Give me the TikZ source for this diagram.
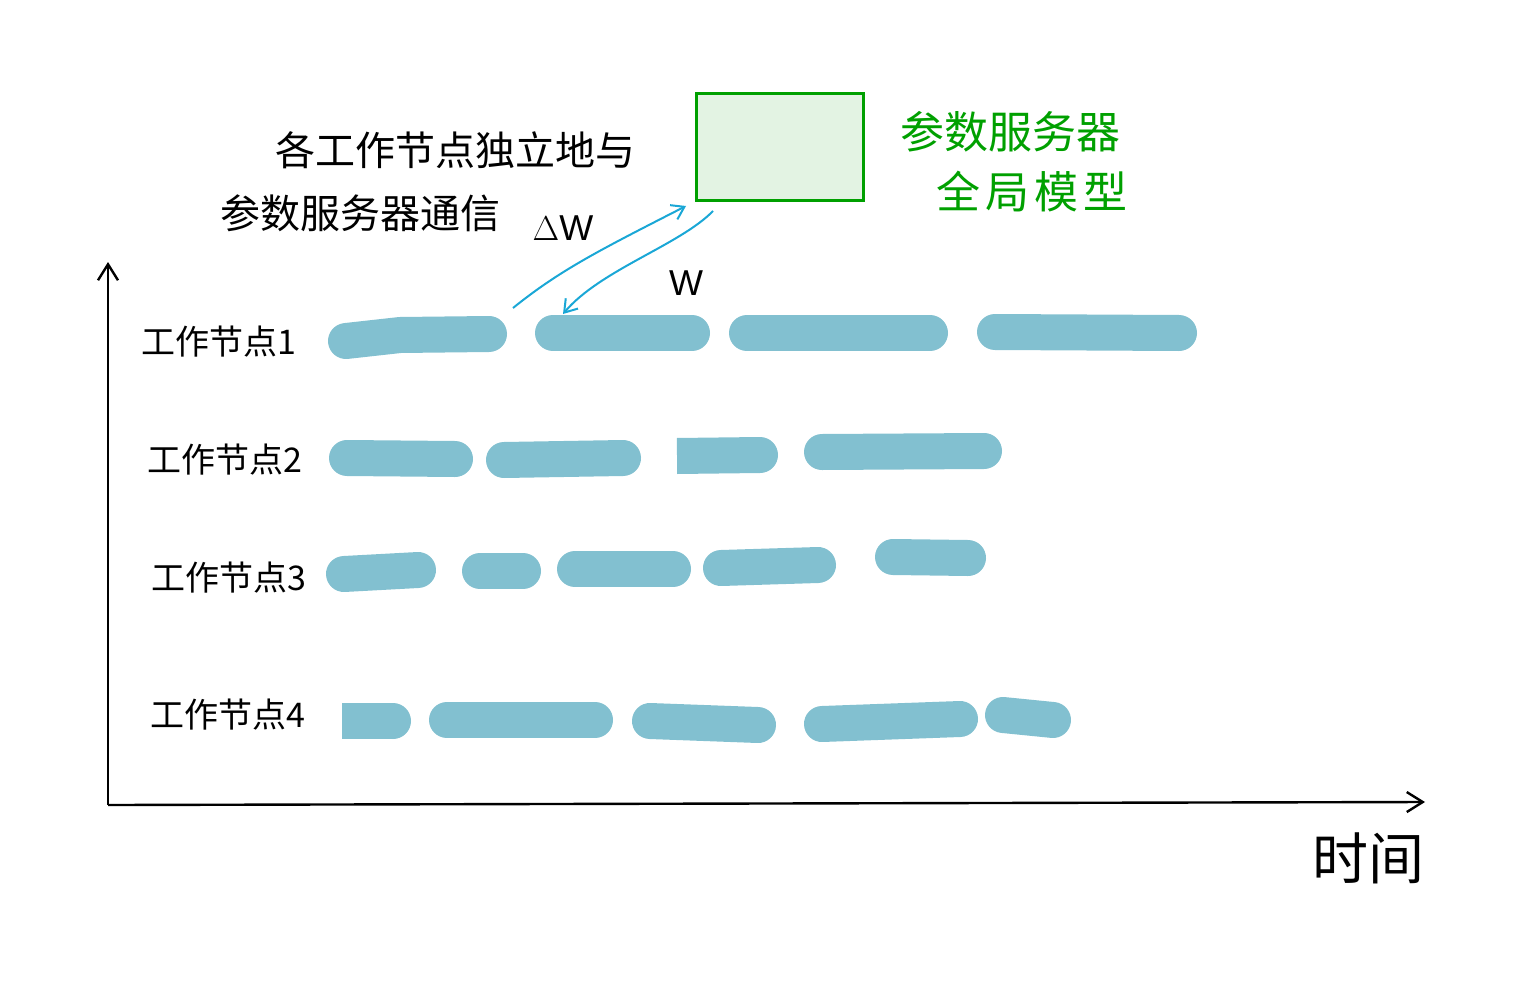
\documentclass[tikz,border=0pt]{standalone}
\usepackage{fontspec}
\setmainfont{Liberation Sans}
\newfontfamily\cjk{Noto Sans CJK SC}
\usetikzlibrary{arrows.meta}
\definecolor{barc}{HTML}{82C0D0}
\definecolor{arrc}{HTML}{1AA7D6}
\definecolor{srvg}{HTML}{00A000}
\definecolor{srvfill}{HTML}{E3F3E3}
\tikzset{
  bar/.style={line width=18pt, line cap=round, barc},
  lbl/.style={font=\cjk\fontsize{17pt}{19pt}\selectfont, text=black},
  note/.style={font=\cjk\fontsize{20pt}{24pt}\selectfont, text=black},
  gnote/.style={font=\cjk\fontsize{22pt}{26pt}\selectfont, text=srvg},
  axis/.style={line width=1.2pt, -{Straight Barb[length=8pt,width=10pt]}},
  comm/.style={arrc, line width=1pt, -{Straight Barb[length=6pt,width=8pt]}}
}
\begin{document}
\begin{tikzpicture}[x=0.5pt,y=-0.5pt]
\useasboundingbox (0,0) rectangle (1529,1000);
% axes
\coordinate (O) at (108,805);
\coordinate (Ytop) at (108,262);
\coordinate (Xend) at (1425,802);
\draw[axis] (O) -- (Ytop);
\draw[axis] (O) -- (Xend);
\node[font=\cjk\fontsize{28pt}{32pt}\selectfont] (time) at (1368,858) {时间};
% server
\node[draw=srvg, fill=srvfill, line width=1.5pt, minimum width=83.5pt, minimum height=53.5pt, inner sep=0pt] (server) at (779.5,147.5) {};
\node[gnote] (srvA) at (1010,132) {参数服务器};
\node[gnote, font=\cjk\fontsize{22pt}{26pt}\selectfont\addfontfeature{LetterSpace=12}] (srvB) at (1032,192) {全局模型};
% note
\node[note] (noteA) at (455,150) {各工作节点独立地与};
\node[note] (noteB) at (360,213) {参数服务器通信};
% labels
\node[lbl] (w1) at (219,342) {工作节点1};
\node[lbl] (w2) at (225,460) {工作节点2};
\node[lbl] (w3) at (229,578) {工作节点3};
\node[lbl] (w4) at (228,715) {工作节点4};
% row 1
\draw[bar] (346,341) -- (400,335) -- (489,334);
\draw[bar] (553,333) -- (692,333);
\draw[bar] (747,333) -- (930,333);
\draw[bar] (995,332) -- (1179,333);
% row 2
\draw[bar] (347,458) -- (455,459);
\draw[bar] (504,460) -- (623,458);
\draw[barc, line width=18pt] (677,456) -- (760,455);
\fill[barc] (760,455) circle (18);
\draw[bar] (822,452) -- (984,451);
% row 3
\draw[bar] (344,574) -- (418,570);
\draw[bar] (480,571) -- (523,571);
\draw[bar] (575,569) -- (673,569);
\draw[bar] (721,568) -- (818,565);
\draw[bar] (893,557) -- (968,558);
% row 4
\draw[barc, line width=18pt] (342,721) -- (393,721);
\fill[barc] (393,721) circle (18);
\draw[bar] (447,720) -- (595,720);
\draw[bar] (650,721) -- (758,725);
\draw[bar] (822,724) -- (960,719);
\draw[bar] (1003,715) -- (1053,720);
% communication
\coordinate (dwS) at (513,308);
\coordinate (dwE) at (686,206);
\coordinate (wS) at (713,211);
\coordinate (wE) at (563,314);
\draw[comm] (dwS) .. controls (560,270) and (600,250) .. (dwE);
\draw[comm] (wS) .. controls (680,245) and (600,270) .. (wE);
\node[font=\fontsize{18pt}{22pt}\selectfont] (dw) at (563,228) {$\Delta\mathrm{W}$};
\node[font=\fontsize{18pt}{22pt}\selectfont] (w) at (686,283) {$\mathrm{W}$};
\end{tikzpicture}
\end{document}
